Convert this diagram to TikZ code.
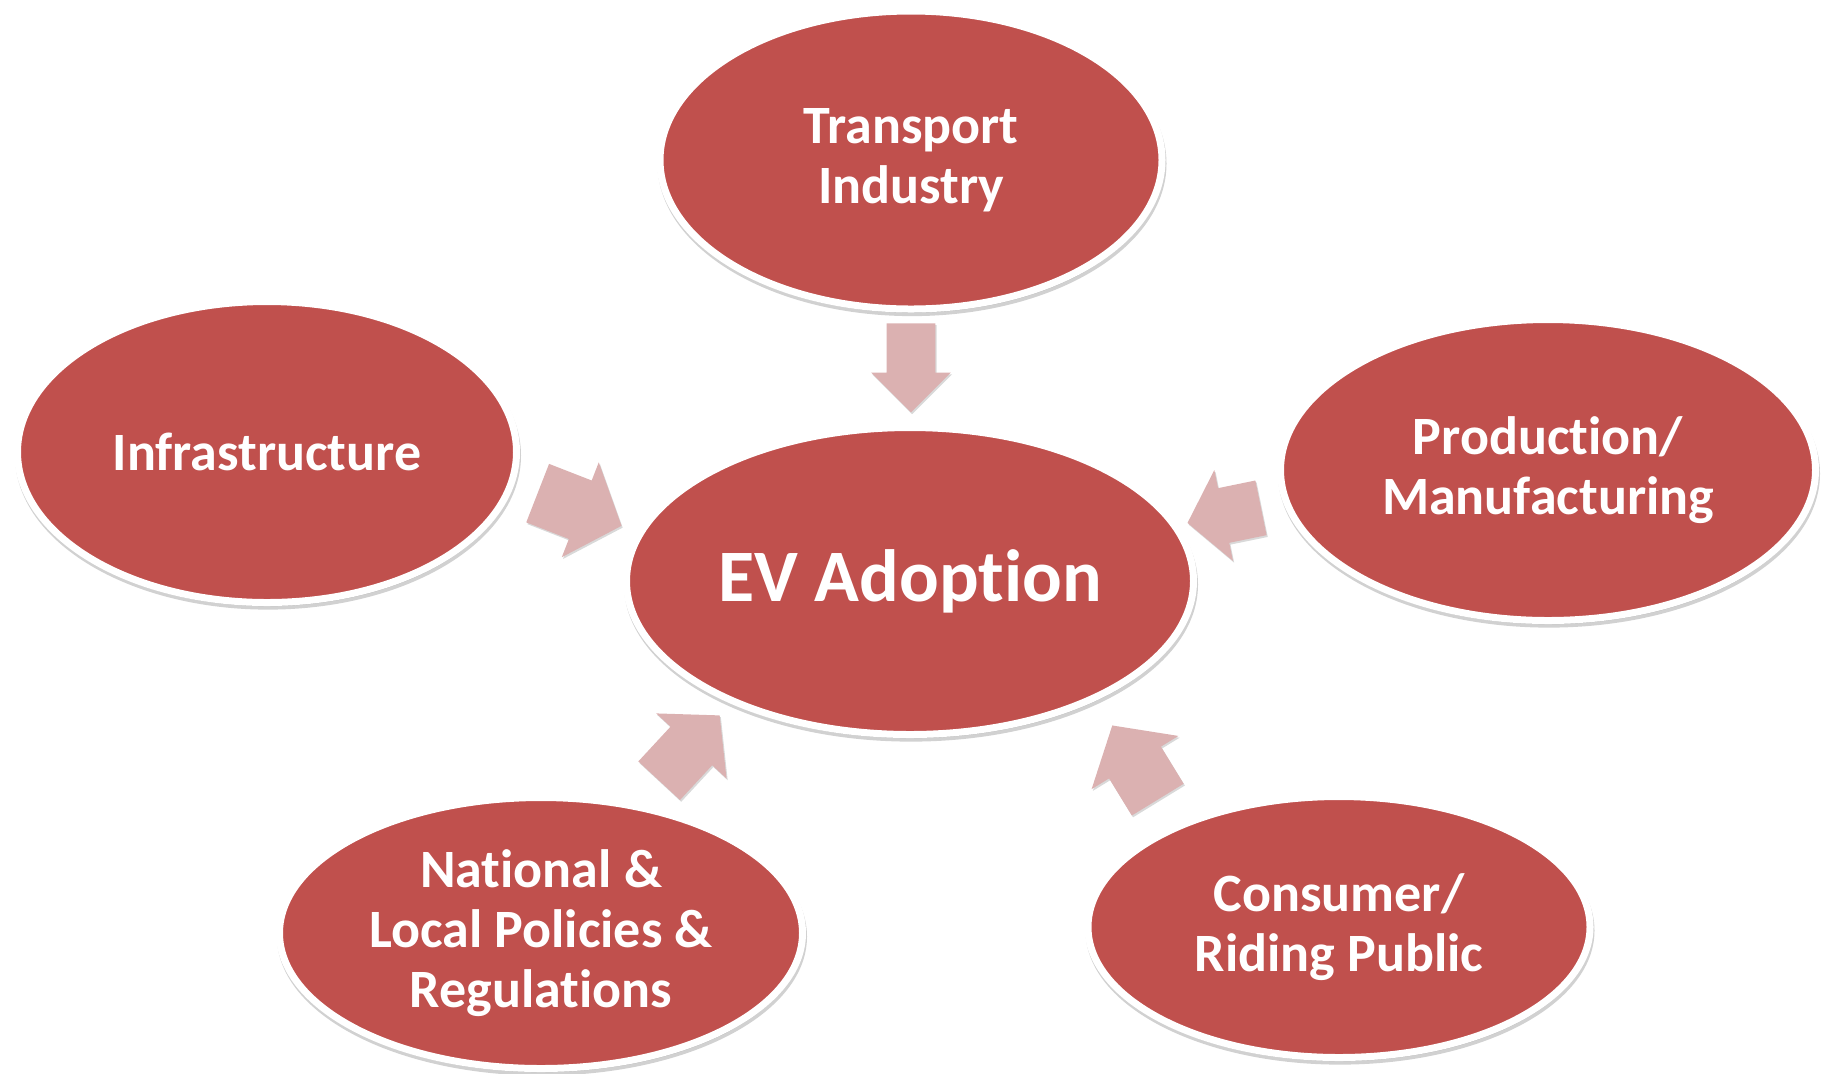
\documentclass[tikz,border=0pt]{standalone}
\usepackage{fontspec}
\setmainfont{Carlito}[Ligatures={NoCommon,NoContextual,NoRare}, Contextuals=NoAlternate]
\usetikzlibrary{shapes.geometric,shapes.arrows,shadows}

\definecolor{evred}{RGB}{192,80,77}
\definecolor{evpink}{RGB}{219,177,177}

\tikzset{
  factor/.style={ellipse, fill=evred, draw=white, line width=3.5pt, text=white,
    font=\fontsize{27}{30}\selectfont\bfseries, align=center, inner sep=0pt,
    drop shadow={shadow xshift=0.5pt, shadow yshift=-1.8pt, opacity=0.3, fill=black!60, draw=black!60}},
  push/.style={single arrow, fill=evpink, draw=none, inner xsep=0pt, anchor=tip,
    drop shadow={shadow xshift=0.6pt, shadow yshift=-0.9pt, opacity=0.3}},
}

\begin{document}
\begin{tikzpicture}[x=0.5pt, y=-0.5pt]
  \useasboundingbox (0,0) rectangle (1826,1073);

  % outer factors
  \node[factor, minimum width=251pt, minimum height=149pt] (transport) at (911,160) {Transport\\Industry};
  \node[factor, minimum width=249.5pt, minimum height=150.5pt] (infra) at (267,452) {Infrastructure};
  \node[factor, minimum width=267.5pt, minimum height=150.5pt] (production) at (1548,470) {Production/\\Manufacturing};
  \node[factor, minimum width=261.5pt, minimum height=135.5pt] (policies) at (541,933) {National \&\\Local Policies \&\\Regulations};
  \node[factor, minimum width=251pt, minimum height=130.5pt] (consumer) at (1339,927) {Consumer/\\Riding Public};

  % centre
  \node[factor, minimum width=283.5pt, minimum height=153.5pt, font=\fontsize{37}{40}\selectfont\bfseries] (ev) at (910,581) {EV Adoption};

  % block arrows
  \node[push, rotate=-90, minimum height=44.5pt, inner ysep=12pt, single arrow head extend=7.75pt, single arrow tip angle=90] (a1) at (911,413) {};
  \node[push, rotate=-21.3, minimum height=45pt, inner ysep=15.5pt, single arrow head extend=9.75pt, single arrow tip angle=98] (a2) at (622,526) {};
  \node[push, rotate=191.6, minimum height=37.5pt, inner ysep=13.75pt, single arrow head extend=9.25pt, single arrow tip angle=103] (a3) at (1187,523) {};
  \node[push, rotate=47.2, minimum height=44.5pt, inner ysep=14pt, single arrow head extend=9.75pt, single arrow tip angle=98] (a4) at (720,715) {};
  \node[push, rotate=121.5, minimum height=43.5pt, inner ysep=15pt, single arrow head extend=10.25pt, single arrow tip angle=99] (a5) at (1112,725) {};

\end{tikzpicture}
\end{document}
